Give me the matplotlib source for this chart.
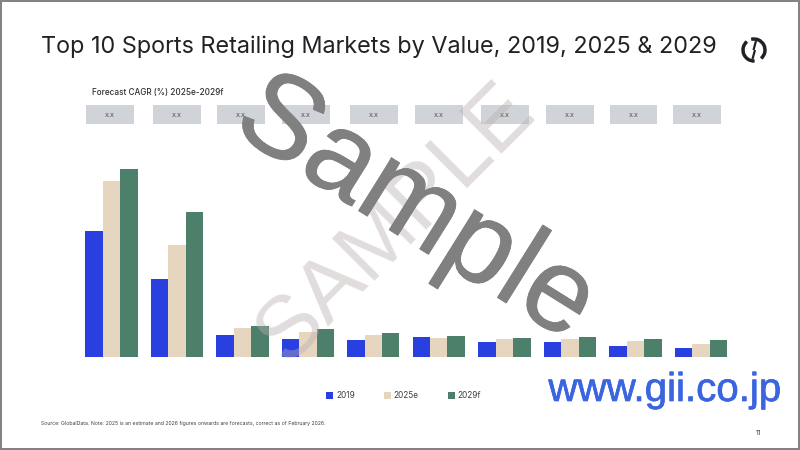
import matplotlib as mpl
mpl.use('Agg')
import matplotlib.pyplot as plt
import matplotlib.patheffects as pe
from matplotlib.patches import Rectangle, Arc
import numpy as np

# heights, no axis in the original so the unit is arbitrary
values_2019 = [126, 77.7, 21.7, 17.7, 16.7, 19.7, 14.7, 15, 10.4, 8.7]
values_2025 = [175.7, 111.7, 28.4, 24.4, 21.7, 19, 17.7, 17.7, 15.7, 13]
values_2029 = [188, 145, 31, 27.4, 23.7, 21, 19, 19.7, 18, 16.7]
cagr_labels = ['x.x', 'x.x', 'x.x', 'x.x', 'x.x', 'x.x', 'x.x', 'x.x', 'x.x', 'x.x']
series_names = ['2019', '2025e', '2029f']
series_colors = ['#2a3fe0', '#e6d5bf', '#4d806b']

box_centers = [110, 177, 241, 306, 374, 439, 505, 570, 633.5, 697]

W, H = 800, 450
plt.rcParams['font.family'] = ['Inter', 'DejaVu Sans']
fig = plt.figure(figsize=(8, 4.5), dpi=100, facecolor='white')

# bars
left, right, top, base = 72, 730, 100, 356.7
ax = fig.add_axes([left/W, 1-base/H, (right-left)/W, (base-top)/H])
ax.set_xlim((left-111.25)/65.5, (right-111.25)/65.5)
ax.set_ylim(0, base-top)
ax.axis('off')
x = np.arange(len(values_2019))
bw = 17.5/65.5
handles = []
for i, vals in enumerate([values_2019, values_2025, values_2029]):
    handles.append(ax.bar(x+(i-1)*bw, vals, bw, color=series_colors[i], label=series_names[i]))

fig.legend(handles=handles, loc='center', bbox_to_anchor=(403.5/W, 1-396/H), ncol=3, frameon=False,
           fontsize=6, handlelength=0.85, handleheight=0.85, handletextpad=0.3, columnspacing=3.5,
           labelcolor='#404040')

# everything else is drawn in pixel coordinates
ov = fig.add_axes([0, 0, 1, 1], facecolor='none')
ov.set_xlim(0, W)
ov.set_ylim(H, 0)
ov.axis('off')

ov.text(41, 47, 'Top 10 Sports Retailing Markets by Value, 2019, 2025 & 2029', fontsize=16.85,
        color='#202226', ha='left', va='center')
ov.text(92, 93, 'Forecast CAGR (%) 2025e-2029f', fontsize=5.9, fontweight='medium',
        color='#303030', ha='left', va='center')

for cx, lab in zip(box_centers, cagr_labels):
    ov.add_patch(Rectangle((cx-23.7, 105), 47.4, 19, color='#d0d4d8', lw=0))
    ov.text(cx, 115, lab, fontsize=5.2, color='#555555', ha='center', va='center')

ov.text(41, 423, 'Source: GlobalData. Note: 2025 is an estimate and 2026 figures onwards are forecasts, correct as of February 2026.',
        fontsize=3.72, color='#404040', ha='left', va='center')
ov.text(758, 433, '11', fontsize=5, color='#404040', ha='center', va='center')

# logo, y axis is flipped so arc angles run clockwise on screen
ov.add_patch(Arc((754, 50), 22, 22, theta1=255, theta2=50, lw=2.5, color='#202226'))
ov.add_patch(Arc((754, 50), 22, 22, theta1=87, theta2=230, lw=2.5, color='#202226'))
ov.plot([756, 753.5], [41, 50], color='#202226', lw=1.6, solid_capstyle='butt')
ov.plot([755, 752.5], [50, 59], color='#202226', lw=1.6, solid_capstyle='butt')

# watermarks
ov.text(396, 224, 'SAMPLE', fontsize=63, family='Liberation Sans', color='#b8aeae', alpha=0.42,
        rotation=45, rotation_mode='anchor', ha='center', va='center')
ov.text(415, 210, 'Sample', fontsize=85, family='Liberation Sans', color='#808080',
        rotation=-32, rotation_mode='anchor', ha='center', va='center',
        path_effects=[pe.withStroke(linewidth=0.6, foreground='#808080')])
ov.text(665, 390, 'www.gii.co.jp', fontsize=29, family='Liberation Sans', color='#3b64e0',
        ha='center', va='center', path_effects=[pe.withStroke(linewidth=0.5, foreground='#3b64e0')])

# frame
ov.add_patch(Rectangle((0.5, 0.5), 798, 448, fill=False, ec='#808080', lw=1.4))

fig.savefig('out.png', dpi=100)
